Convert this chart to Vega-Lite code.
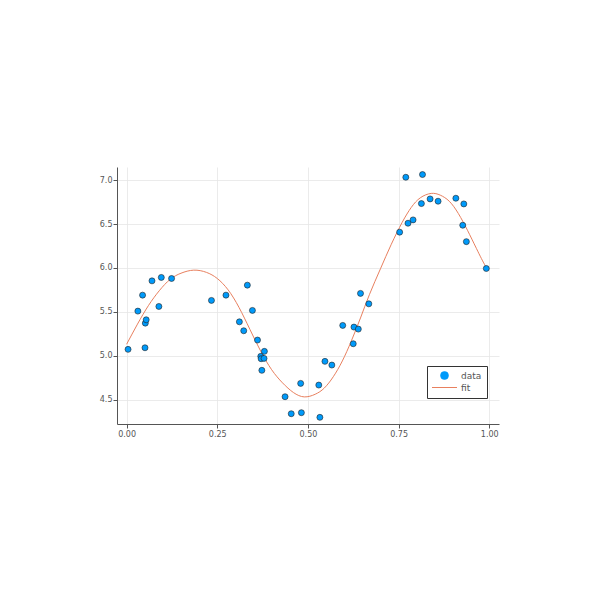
{
  "$schema": "https://vega.github.io/schema/vega-lite/v6.json",
  "autosize": {"type": "none"},
  "padding": {"left": 117, "top": 167, "right": 101, "bottom": 176},
  "width": 382,
  "height": 257,
  "background": "white",
  "config": {
    "view": {"stroke": null},
    "axis": {
      "domainColor": "#555555",
      "domainWidth": 1,
      "tickColor": "#555555",
      "tickSize": 4,
      "tickWidth": 1,
      "gridColor": "#e6e6e6",
      "gridWidth": 0.8,
      "labelColor": "#555555",
      "labelFont": "DejaVu Sans",
      "labelFontSize": 8,
      "title": null
    }
  },
  "datasets": {
    "pts": [
      {"x": 0.004, "y": 5.072}, {"x": 0.031, "y": 5.508}, {"x": 0.044, "y": 5.69}, {"x": 0.0507, "y": 5.09},
      {"x": 0.0516, "y": 5.371}, {"x": 0.054, "y": 5.409}, {"x": 0.070, "y": 5.853}, {"x": 0.089, "y": 5.561},
      {"x": 0.0957, "y": 5.892}, {"x": 0.124, "y": 5.88}, {"x": 0.234, "y": 5.63}, {"x": 0.274, "y": 5.69},
      {"x": 0.311, "y": 5.386}, {"x": 0.323, "y": 5.284}, {"x": 0.333, "y": 5.804}, {"x": 0.347, "y": 5.516},
      {"x": 0.361, "y": 5.178}, {"x": 0.370, "y": 4.992}, {"x": 0.371, "y": 4.965}, {"x": 0.373, "y": 4.833},
      {"x": 0.379, "y": 4.969}, {"x": 0.380, "y": 5.049}, {"x": 0.437, "y": 4.532}, {"x": 0.454, "y": 4.338},
      {"x": 0.480, "y": 4.684}, {"x": 0.482, "y": 4.35}, {"x": 0.530, "y": 4.665}, {"x": 0.533, "y": 4.297},
      {"x": 0.547, "y": 4.935}, {"x": 0.566, "y": 4.893}, {"x": 0.596, "y": 5.345}, {"x": 0.625, "y": 5.136},
      {"x": 0.627, "y": 5.326}, {"x": 0.639, "y": 5.303}, {"x": 0.645, "y": 5.71}, {"x": 0.668, "y": 5.591},
      {"x": 0.753, "y": 6.408}, {"x": 0.770, "y": 7.034}, {"x": 0.776, "y": 6.51}, {"x": 0.790, "y": 6.548},
      {"x": 0.813, "y": 6.734}, {"x": 0.816, "y": 7.065}, {"x": 0.837, "y": 6.787}, {"x": 0.859, "y": 6.761},
      {"x": 0.908, "y": 6.795}, {"x": 0.927, "y": 6.487}, {"x": 0.930, "y": 6.73}, {"x": 0.937, "y": 6.30},
      {"x": 0.992, "y": 5.994}
    ],
    "fit": [
      {"x": 0.0, "y": 5.13}, {"x": 0.03, "y": 5.36}, {"x": 0.06, "y": 5.57}, {"x": 0.09, "y": 5.74},
      {"x": 0.12, "y": 5.87}, {"x": 0.15, "y": 5.94}, {"x": 0.185, "y": 5.975}, {"x": 0.22, "y": 5.95},
      {"x": 0.25, "y": 5.88}, {"x": 0.28, "y": 5.75}, {"x": 0.31, "y": 5.55}, {"x": 0.34, "y": 5.30},
      {"x": 0.37, "y": 5.05}, {"x": 0.40, "y": 4.84}, {"x": 0.43, "y": 4.69}, {"x": 0.46, "y": 4.58},
      {"x": 0.49, "y": 4.53}, {"x": 0.52, "y": 4.56}, {"x": 0.545, "y": 4.63}, {"x": 0.57, "y": 4.76},
      {"x": 0.595, "y": 4.94}, {"x": 0.62, "y": 5.17}, {"x": 0.645, "y": 5.43}, {"x": 0.67, "y": 5.70},
      {"x": 0.70, "y": 5.99}, {"x": 0.73, "y": 6.27}, {"x": 0.76, "y": 6.52}, {"x": 0.785, "y": 6.69},
      {"x": 0.81, "y": 6.80}, {"x": 0.84, "y": 6.85}, {"x": 0.865, "y": 6.83}, {"x": 0.89, "y": 6.76},
      {"x": 0.915, "y": 6.62}, {"x": 0.94, "y": 6.43}, {"x": 0.965, "y": 6.22}, {"x": 0.99, "y": 6.02},
      {"x": 1.0, "y": 5.99}
    ]
  },
  "layer": [
    {
      "data": {"name": "fit"},
      "transform": [{"calculate": "'fit'", "as": "series"}],
      "mark": {"type": "line", "strokeWidth": 1, "interpolate": "natural"},
      "encoding": {
        "x": {"field": "x", "type": "quantitative", "scale": {"domain": [-0.0265, 1.027], "nice": false, "zero": false},
              "axis": {"values": [0, 0.25, 0.5, 0.75, 1], "format": ".2f", "labelPadding": 2,
                       "encode": {"ticks": {"update": {"y2": {"value": -4}}}}}},
        "y": {"field": "y", "type": "quantitative", "scale": {"domain": [4.221, 7.151], "nice": false, "zero": false},
              "axis": {"values": [4.5, 5, 5.5, 6, 6.5, 7], "format": ".1f", "labelPadding": 1,
                       "encode": {"ticks": {"update": {"x2": {"value": 4}}}}}},
        "color": {"field": "series", "type": "nominal",
          "scale": {"domain": ["data", "fit"], "range": ["#009AFA", "#E8805F"]},
          "legend": {
            "orient": "none", "legendX": 310, "legendY": 199, "title": null,
            "strokeColor": "#333333", "fillColor": "white", "padding": 5,
            "symbolSize": 64, "symbolOffset": 8, "labelOffset": 12,
            "labelFontSize": 9, "labelColor": "#555555", "labelFont": "DejaVu Sans", "rowPadding": 2,
            "encode": {"symbols": {"update": {
              "shape": {"signal": "datum.label === 'data' ? 'circle' : 'stroke'"},
              "size": {"signal": "datum.label === 'data' ? 64 : 625"},
              "fill": {"signal": "datum.label === 'data' ? '#009AFA' : 'transparent'"},
              "stroke": {"signal": "datum.label === 'data' ? '#222222' : '#E8805F'"},
              "strokeWidth": {"signal": "datum.label === 'data' ? 0.6 : 1"},
              "opacity": {"value": 1}
            }}}
          }}
      }
    },
    {
      "data": {"name": "pts"},
      "transform": [{"calculate": "'data'", "as": "series"}],
      "mark": {"type": "circle", "size": 36, "stroke": "#222222", "strokeWidth": 0.6, "opacity": 1},
      "encoding": {
        "x": {"field": "x", "type": "quantitative"},
        "y": {"field": "y", "type": "quantitative"},
        "color": {"field": "series", "type": "nominal"}
      }
    }
  ]
}
